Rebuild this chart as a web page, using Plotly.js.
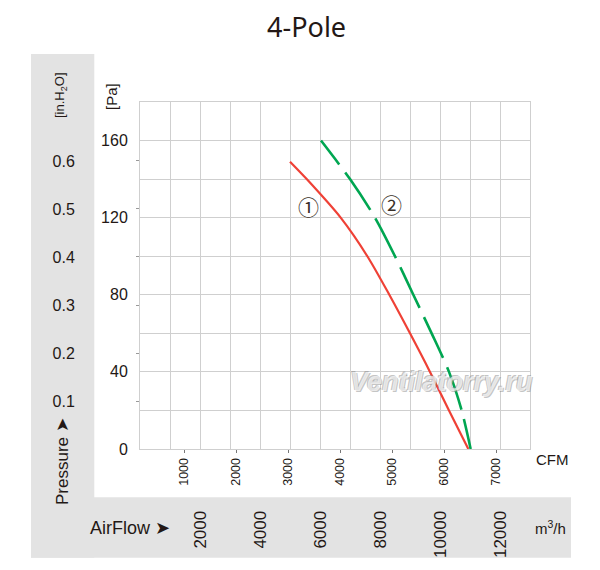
<!DOCTYPE html>
<html>
<head>
<meta charset="utf-8">
<script src="https://cdn.plot.ly/plotly-3.0.1.min.js"></script>
<style>
  body { margin: 0; background: #fff; }
  #chart { width: 600px; height: 570px; }
</style>
</head>
<body>
<div id="chart"></div>
<script>
// curve 1 (red, solid): airflow [m3/h] vs static pressure [Pa]
var curve1Flow = [5000, 5556, 6689, 7578, 8311, 9000, 9667, 10300, 10944];
var curve1Pa = [149, 140, 120, 100, 80, 60, 40, 20, 0];

// curve 2 (green, dashed)
var curve2Flow = [6033, 7000, 7833, 8500, 9111, 9722, 10300, 10722, 11022];
var curve2Pa = [160, 140, 120, 100, 80, 60, 40, 20, 0];

var paTicks = [0, 40, 80, 120, 160];
var inH2OTicks = [0.1, 0.2, 0.3, 0.4, 0.5, 0.6];
var cfmTicks = [1000, 2000, 3000, 4000, 5000, 6000, 7000];
var m3hTicks = [2000, 4000, 6000, 8000, 10000, 12000];

var PA_PER_INH2O = 249;
var M3H_PER_CFM = 1.699;
var SANS = 'Liberation Sans, Arial, sans-serif';
var TXT = '#231815';
var GRID = '#cfcfcf';

// plot area in pixels: 140..530 x 102..449
function pxX(p) { return (p - 140) / 390; }
function pxY(p) { return (449 - p) / 347; }

function label(text, x, y, font, angle) {
    return {
        text: text, xref: 'paper', yref: 'paper',
        x: pxX(x), y: pxY(y), xanchor: 'center', yanchor: 'middle',
        showarrow: false, textangle: angle || 0, font: font
    };
}

var hidden = { width: 0, color: 'rgba(0,0,0,0)' };

var traces = [{
    x: curve1Flow,
    y: curve1Pa,
    mode: 'lines',
    line: { color: '#ef4136', width: 2.2, shape: 'spline', smoothing: 0.8 },
    hoverinfo: 'skip'
}, {
    x: curve2Flow,
    y: curve2Pa,
    mode: 'lines',
    line: {
        color: '#00a651', width: 2.6, shape: 'spline', smoothing: 0.8,
        dash: '30px,10px,45px,10px,45px,10px,45px,10px,45px,10px,45px,10px,45px,10px'
    },
    hoverinfo: 'skip'
}, {
    // same curve in CFM, only to carry the CFM axis
    x: curve1Flow.map(function (f) { return f / M3H_PER_CFM; }),
    y: curve1Pa,
    xaxis: 'x2', yaxis: 'y',
    mode: 'lines', line: hidden, opacity: 0, hoverinfo: 'skip'
}, {
    // same curve in in.H2O, only to carry the in.H2O axis
    x: curve1Flow,
    y: curve1Pa.map(function (p) { return p / PA_PER_INH2O; }),
    xaxis: 'x', yaxis: 'y2',
    mode: 'lines', line: hidden, opacity: 0, hoverinfo: 'skip'
}];

var layout = {
    width: 600,
    height: 570,
    paper_bgcolor: '#ffffff',
    plot_bgcolor: '#ffffff',
    showlegend: false,
    margin: { l: 140, r: 70, t: 102, b: 121 },
    title: {
        text: '4-Pole',
        xref: 'container', yref: 'container',
        x: 0.511, y: 1 - 28 / 570, xanchor: 'center', yanchor: 'middle',
        font: { family: 'Noto Sans', size: 27, color: TXT }
    },
    xaxis: {
        range: [0, 13000],
        tickmode: 'array',
        tickvals: m3hTicks,
        ticktext: m3hTicks.map(String),
        ticks: '',
        tickangle: -90,
        ticklabelstandoff: 54,
        tickfont: { family: SANS, size: 17, color: TXT },
        showgrid: true,
        gridcolor: GRID,
        minor: { tickmode: 'linear', tick0: 0, dtick: 1000, showgrid: true, gridcolor: GRID },
        zeroline: false,
        showline: true,
        mirror: true,
        linecolor: GRID
    },
    xaxis2: {
        overlaying: 'x',
        side: 'bottom',
        anchor: 'y',
        range: [148, 7648],
        tickmode: 'array',
        tickvals: cfmTicks,
        ticktext: cfmTicks.map(String),
        ticks: 'outside',
        ticklen: 3,
        tickcolor: '#777777',
        tickangle: -90,
        tickfont: { family: SANS, size: 12.5, color: TXT },
        showgrid: false,
        zeroline: false,
        showline: false
    },
    yaxis: {
        range: [0, 180],
        tickmode: 'array',
        tickvals: paTicks,
        ticks: '',
        ticklabelstandoff: 8,
        tickfont: { family: SANS, size: 16, color: TXT },
        showgrid: true,
        gridcolor: GRID,
        minor: { tickmode: 'linear', tick0: 0, dtick: 20, showgrid: true, gridcolor: GRID },
        zeroline: false,
        showline: true,
        mirror: true,
        linecolor: GRID
    },
    yaxis2: {
        overlaying: 'y',
        side: 'left',
        anchor: 'x',
        range: [0, 180 / PA_PER_INH2O],
        tickmode: 'array',
        tickvals: inH2OTicks,
        ticks: 'outside',
        ticklen: 3,
        tickcolor: '#999999',
        ticklabelstandoff: 58,
        tickfont: { family: SANS, size: 16, color: TXT },
        showgrid: false,
        zeroline: false,
        showline: false
    },
    shapes: [{
        type: 'rect', xref: 'paper', yref: 'paper', layer: 'below',
        x0: pxX(31), x1: pxX(94.3), y0: pxY(557.7), y1: pxY(54),
        fillcolor: '#e3e3e3', line: { width: 0 }
    }, {
        type: 'rect', xref: 'paper', yref: 'paper', layer: 'below',
        x0: pxX(31), x1: pxX(571), y0: pxY(557.7), y1: pxY(497.3),
        fillcolor: '#e3e3e3', line: { width: 0 }
    }],
    annotations: [
        label('[in.H<sub>2</sub>O]', 60, 95, { family: SANS, size: 13, color: TXT }, -90),
        label('[Pa]', 112, 97, { family: SANS, size: 15, color: TXT }, -90),
        label('Pressure \u27A4', 62, 462, { family: SANS, size: 17, color: TXT }, -90),
        label('AirFlow \u27A4', 130, 528, { family: SANS, size: 18, color: TXT }),
        label('m<sup>3</sup>/h', 550, 527, { family: SANS, size: 15, color: TXT }),
        label('CFM', 552, 460, { family: SANS, size: 15, color: TXT }),
        label('Ventilatorry.ru', 441, 382, {
            family: SANS, size: 27, style: 'italic', weight: 'bold',
            color: 'rgba(252,252,252,0.7)',
            shadow: '-1px -1px 0 rgba(140,140,140,0.75), 1px 1px 0 rgba(140,140,140,0.75)'
        }),
        {
            text: '\u2460', xref: 'x', yref: 'y', x: 5610, y: 126,
            showarrow: false, xanchor: 'center', yanchor: 'middle',
            font: { family: 'Noto Sans CJK JP', size: 21, color: '#3a3028' }
        },
        {
            text: '\u2461', xref: 'x', yref: 'y', x: 8370, y: 127,
            showarrow: false, xanchor: 'center', yanchor: 'middle',
            font: { family: 'Noto Sans CJK JP', size: 21, color: '#3a3028' }
        }
    ]
};

Plotly.newPlot('chart', traces, layout, { staticPlot: true });
</script>
</body>
</html>
